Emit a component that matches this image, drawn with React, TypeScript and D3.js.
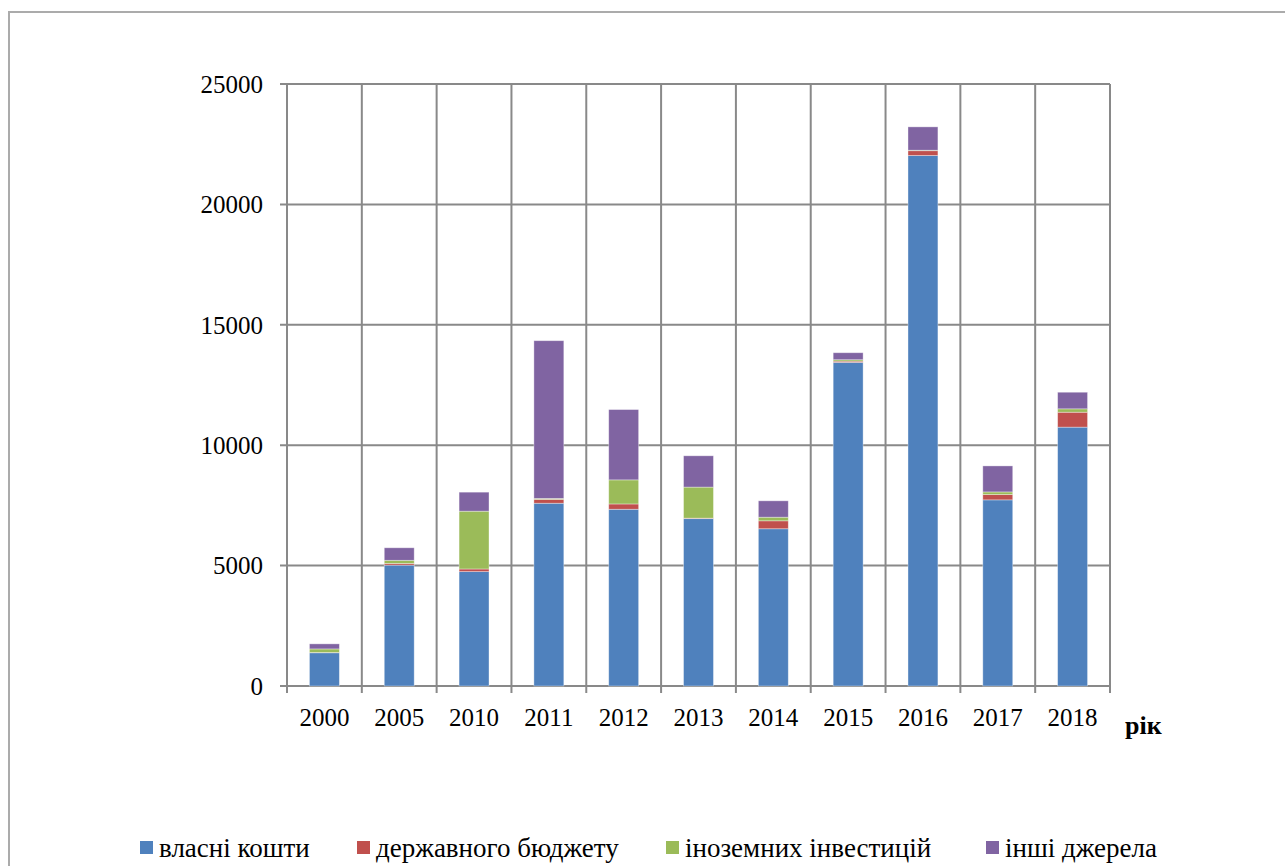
import React, { useEffect, useRef } from 'react';
import * as d3 from 'd3';

const years = ['2000', '2005', '2010', '2011', '2012', '2013', '2014', '2015', '2016', '2017', '2018'];
const ownFunds = [1380, 5020, 4750, 7590, 7340, 6950, 6530, 13440, 22030, 7730, 10750];
const stateBudget = [10, 70, 110, 160, 220, 20, 330, 50, 200, 220, 620];
const foreignInv = [150, 130, 2400, 40, 1000, 1290, 150, 60, 20, 110, 140];
const otherSources = [210, 520, 790, 6550, 2920, 1300, 680, 290, 970, 1080, 690];
const seriesNames = ['власні кошти', 'державного бюджету', 'іноземних інвестицій', 'інші джерела'];
const seriesColors = ['#4F81BD', '#C0504D', '#9BBB59', '#8064A2'];
const yTicks = [0, 5000, 10000, 15000, 20000, 25000];

const FONT = 'Liberation Serif';

export default function App() {
  const svgRef = useRef<SVGSVGElement>(null);

  useEffect(() => {
    if (!svgRef.current) return;
    const svg = d3.select(svgRef.current);
    svg.selectAll('*').remove();

    const plot = { left: 287, right: 1110, top: 84, bottom: 686 };
    const gridColor = '#898989';

    // outer chart frame
    svg.append('path')
      .attr('d', 'M9,900 L9,12 L1290,12')
      .attr('fill', 'none')
      .attr('stroke', '#ababab')
      .attr('stroke-width', 2);

    const x = d3.scaleBand<string>()
      .domain(years)
      .range([plot.left, plot.right])
      .padding(0);

    const xBar = d3.scaleBand<string>()
      .domain(years)
      .range([plot.left, plot.right])
      .paddingInner(0.6)
      .paddingOuter(0.3);

    const y = d3.scaleLinear()
      .domain([0, 25000])
      .range([plot.bottom, plot.top]);

    // horizontal gridlines + left ticks
    svg.append('g')
      .selectAll('line')
      .data(yTicks)
      .enter()
      .append('line')
      .attr('x1', plot.left - 7)
      .attr('x2', plot.right)
      .attr('y1', d => y(d))
      .attr('y2', d => y(d))
      .attr('stroke', gridColor)
      .attr('stroke-width', 2);

    // vertical gridlines + bottom ticks
    const bounds = years.map(d => x(d) as number).concat([plot.right]);
    svg.append('g')
      .selectAll('line')
      .data(bounds)
      .enter()
      .append('line')
      .attr('x1', d => d)
      .attr('x2', d => d)
      .attr('y1', plot.top)
      .attr('y2', plot.bottom + 7)
      .attr('stroke', gridColor)
      .attr('stroke-width', 2);

    // stacked bars
    const table = years.map((yr, i) => ({
      year: yr,
      s0: ownFunds[i],
      s1: stateBudget[i],
      s2: foreignInv[i],
      s3: otherSources[i],
    }));
    const stack = d3.stack<any>().keys(['s0', 's1', 's2', 's3']);
    const layers = stack(table);

    svg.append('g')
      .selectAll('g')
      .data(layers)
      .enter()
      .append('g')
      .attr('fill', (_, i) => seriesColors[i])
      .selectAll('rect')
      .data(d => d)
      .enter()
      .append('rect')
      .attr('x', d => xBar(d.data.year) as number)
      .attr('width', xBar.bandwidth())
      .attr('y', d => y(d[1]))
      .attr('height', d => y(d[0]) - y(d[1]))
      .attr('stroke', '#ffffff')
      .attr('stroke-opacity', 0.45)
      .attr('stroke-width', 0.8);

    const txt = svg.append('g')
      .style('font-family', FONT)
      .attr('fill', '#000');

    // y tick labels
    txt.append('g')
      .selectAll('text')
      .data(yTicks)
      .enter()
      .append('text')
      .attr('x', 263)
      .attr('y', d => y(d))
      .attr('dy', '0.35em')
      .attr('text-anchor', 'end')
      .style('font-size', '25px')
      .text(d => String(d));

    // x tick labels
    txt.append('g')
      .selectAll('text')
      .data(years)
      .enter()
      .append('text')
      .attr('x', d => (x(d) as number) + x.bandwidth() / 2)
      .attr('y', 726)
      .attr('text-anchor', 'middle')
      .style('font-size', '25px')
      .text(d => d);

    txt.append('text')
      .attr('x', 1125)
      .attr('y', 734)
      .style('font-size', '26px')
      .style('font-weight', 'bold')
      .text('рік');

    // legend
    const legendX = [140, 357, 666, 986];
    const legend = txt.append('g')
      .selectAll('g')
      .data(seriesNames)
      .enter()
      .append('g')
      .attr('transform', (_, i) => `translate(${legendX[i]},0)`);

    legend.append('rect')
      .attr('x', 0)
      .attr('y', 841)
      .attr('width', 13)
      .attr('height', 13)
      .attr('fill', (_, i) => seriesColors[i]);

    legend.append('text')
      .attr('x', 19)
      .attr('y', 857)
      .style('font-size', '27px')
      .text(d => d);
  }, []);

  return (
    <svg
      ref={svgRef}
      width={1285}
      height={866}
      style={{ position: 'absolute', left: 0, top: 0, background: '#fff' }}
    />
  );
}
